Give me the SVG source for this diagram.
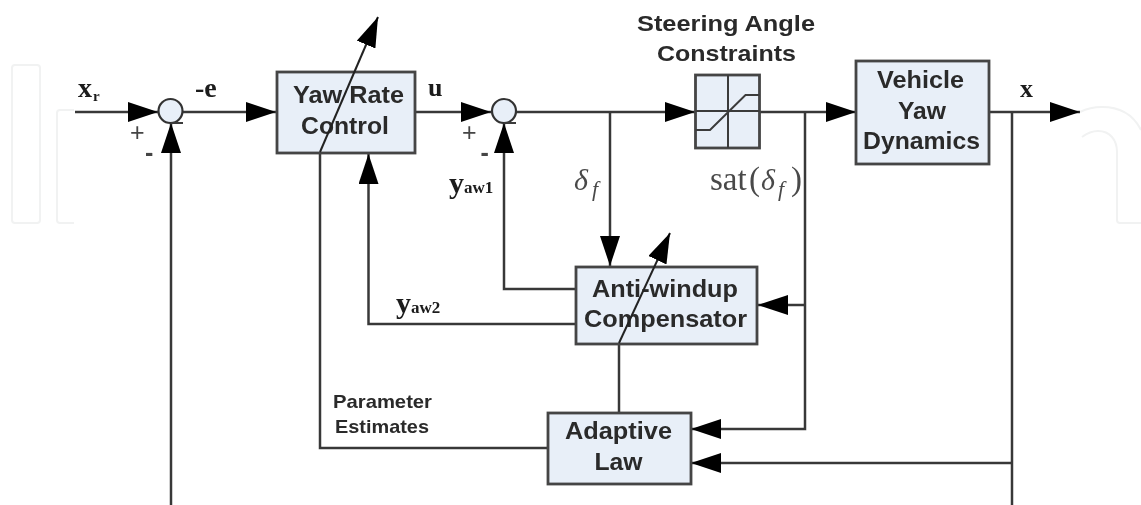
<svg xmlns="http://www.w3.org/2000/svg" width="1141" height="505" viewBox="0 0 1141 505">
<style>
.wm{fill:none;stroke:#f1f2f2;stroke-width:2}
.box{fill:#e8eff8;stroke:#444;stroke-width:2.8}
.ln{fill:none;stroke:#383838;stroke-width:2.5}
.sj{fill:#e8eff8;stroke:#333;stroke-width:2.2}
.thin{fill:none;stroke:#3a3a3a;stroke-width:2}
.diag{fill:none;stroke:#222;stroke-width:2}
.ss{font-family:"Liberation Sans",Arial,sans-serif;font-weight:700;fill:#2a2a2a}
.ts{font-family:"Liberation Serif","Times New Roman",serif;font-weight:700;fill:#1a1a1a}
.tm{font-family:"Liberation Serif","Times New Roman",serif;fill:#4a4a4a}
.it{font-style:italic}
.sg{font-family:"Liberation Sans",Arial,sans-serif;fill:#444}
</style>
<defs>
<marker id="ah" markerUnits="userSpaceOnUse" markerWidth="30" markerHeight="20" refX="30" refY="10" orient="auto"><path d="M0 0L30 10L0 20z" fill="#000"/></marker>
<filter id="soft" x="-2%" y="-2%" width="104%" height="104%"><feGaussianBlur stdDeviation="0.6"/></filter>
</defs>
<rect width="1141" height="505" fill="#fff"/>
<g id="watermark">
<rect class="wm" x="12" y="65" width="28" height="158" rx="3"/>
<path class="wm" d="M74 110H60Q57 110 57 113V220Q57 223 60 223H74"/>
<path class="wm" d="M1080 112Q1090 107 1102 107C1122 107 1134 116 1141 130"/>
<path class="wm" d="M1082 137Q1090 131 1098 131C1110 131 1117 140 1117 152V220Q1117 223 1120 223H1141"/>
</g>
<g filter="url(#soft)">
<g id="connectors">
<path class="ln" d="M75 112H158" marker-end="url(#ah)"/>
<path class="ln" d="M183 112H276" marker-end="url(#ah)"/>
<path class="ln" d="M415 112H491" marker-end="url(#ah)"/>
<path class="ln" d="M516 112H695" marker-end="url(#ah)"/>
<path class="ln" d="M759 112H856" marker-end="url(#ah)"/>
<path class="ln" d="M989 112H1080" marker-end="url(#ah)"/>
<path class="ln" d="M171 505V123" marker-end="url(#ah)"/>
<path class="ln" d="M610 112V266" marker-end="url(#ah)"/>
<path class="ln" d="M576 289H504V123" marker-end="url(#ah)"/>
<path class="ln" d="M576 324H368.500V154" marker-end="url(#ah)"/>
<path class="ln" d="M805 112V429H691" marker-end="url(#ah)"/>
<path class="ln" d="M805 305H758" marker-end="url(#ah)"/>
<path class="ln" d="M1012 112V505"/>
<path class="ln" d="M1012 463H691" marker-end="url(#ah)"/>
<path class="ln" d="M548 448H320V152"/>
<path class="ln" d="M619 413V344"/>
</g>
<g id="sum1"><circle class="sj" cx="170.500" cy="111" r="12"/><path class="thin" d="M171 123H183"/></g>
<g id="sum2"><circle class="sj" cx="504" cy="111" r="12"/><path class="thin" d="M504 123H516"/></g>
<g id="yaw-rate-control">
<rect class="box" x="277" y="72" width="138" height="81"/>
<text class="ss" x="293" y="103" font-size="24" textLength="111" lengthAdjust="spacingAndGlyphs">Yaw Rate</text>
<text class="ss" x="301" y="134" font-size="24" textLength="88" lengthAdjust="spacingAndGlyphs">Control</text>
</g>
<g id="saturation">
<rect class="box" x="695.500" y="75" width="64" height="73"/>
<path class="thin" d="M728 75V148M695.500 111H759.500M695.500 130H710L745.500 95H759.500"/>
</g>
<g id="vehicle-yaw-dynamics">
<rect class="box" x="856" y="61" width="133" height="103"/>
<text class="ss" x="877" y="88" font-size="24" textLength="87" lengthAdjust="spacingAndGlyphs">Vehicle</text>
<text class="ss" x="898" y="119" font-size="24" textLength="48" lengthAdjust="spacingAndGlyphs">Yaw</text>
<text class="ss" x="863" y="149" font-size="24" textLength="117" lengthAdjust="spacingAndGlyphs">Dynamics</text>
</g>
<g id="anti-windup-compensator">
<rect class="box" x="576" y="267" width="181" height="77"/>
<text class="ss" x="592" y="297" font-size="24" textLength="146" lengthAdjust="spacingAndGlyphs">Anti-windup</text>
<text class="ss" x="584" y="327" font-size="24" textLength="163" lengthAdjust="spacingAndGlyphs">Compensator</text>
</g>
<g id="adaptive-law">
<rect class="box" x="548" y="413" width="143" height="71"/>
<text class="ss" x="565" y="439" font-size="24" textLength="107" lengthAdjust="spacingAndGlyphs">Adaptive</text>
<text class="ss" x="594.500" y="470" font-size="24" textLength="48" lengthAdjust="spacingAndGlyphs">Law</text>
</g>
<g id="adjust-arrows">
<path class="diag" d="M320 152L378 17" marker-end="url(#ah)"/>
<path class="diag" d="M619 343L670 233" marker-end="url(#ah)"/>
</g>
<g id="labels">
<text class="ss" x="637" y="31" font-size="22" textLength="178" lengthAdjust="spacingAndGlyphs">Steering Angle</text>
<text class="ss" x="657" y="61" font-size="22" textLength="139" lengthAdjust="spacingAndGlyphs">Constraints</text>
<text class="ss" x="333" y="408" font-size="19" textLength="99" lengthAdjust="spacingAndGlyphs">Parameter</text>
<text class="ss" x="335" y="433" font-size="19" textLength="94" lengthAdjust="spacingAndGlyphs">Estimates</text>
<text class="ts" x="78" y="97" font-size="28">x<tspan font-size="15" dy="4" dx="1">r</tspan></text>
<text class="ts" x="195" y="97" font-size="28">-e</text>
<text class="ts" x="428" y="96" font-size="26">u</text>
<text class="ts" x="1020" y="97" font-size="26">x</text>
<text class="ts" x="449" y="193" font-size="30">y<tspan font-size="17">aw1</tspan></text>
<text class="ts" x="396" y="313" font-size="30">y<tspan font-size="17">aw2</tspan></text>
<text class="sg" x="130" y="141" font-size="25">+</text>
<text class="sg" x="145" y="161" font-size="25" font-weight="700">-</text>
<text class="sg" x="462" y="141" font-size="25">+</text>
<text class="sg" x="480.500" y="161" font-size="25" font-weight="700">-</text>
<text class="tm" font-size="30"><tspan class="it" x="574" y="190">δ</tspan><tspan class="it" font-size="22" x="592" y="196">f</tspan></text>
<text class="tm" font-size="33"><tspan x="710" y="190">sat</tspan><tspan x="749" y="190">(</tspan><tspan class="it" font-size="30" x="761" y="190">δ</tspan><tspan class="it" font-size="22" x="778" y="196">f</tspan><tspan x="791" y="190">)</tspan></text>
</g>
</g>
</svg>
